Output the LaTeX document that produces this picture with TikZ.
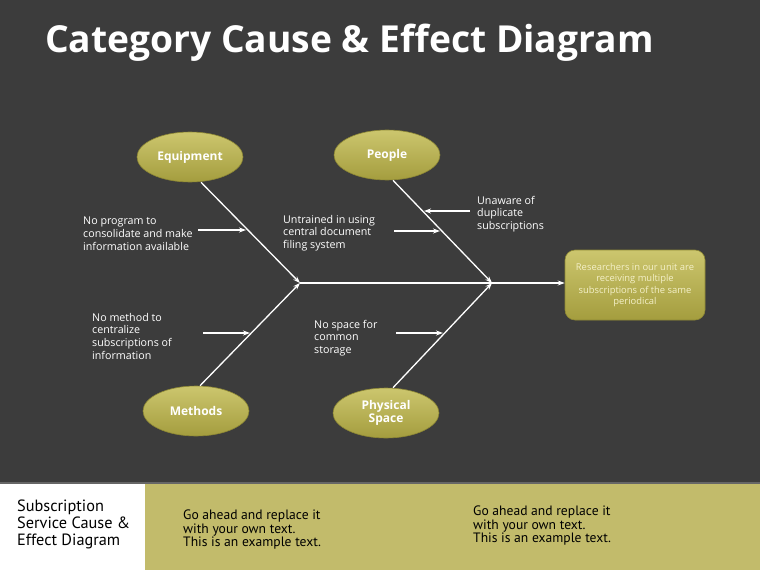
\documentclass[tikz,border=0pt]{standalone}
\usepackage{fontspec}
\setmainfont{Open Sans}
\newfontfamily\bottomfont{PT Sans}
\usetikzlibrary{shapes.geometric,arrows.meta}
\definecolor{bgdark}{HTML}{3C3C3C}
\definecolor{olive}{HTML}{C2BB6B}
\definecolor{olivetop}{HTML}{CCC66E}
\definecolor{olivebot}{HTML}{A49D3E}
\definecolor{oliverim}{HTML}{8E8834}
\definecolor{effecttext}{HTML}{F4F0C8}
\tikzset{
  cat/.style={ellipse, minimum width=106pt, minimum height=50pt, inner sep=0pt,
    top color=olivetop, bottom color=olivebot, draw=oliverim, line width=0.6pt,
    text=white, font=\fontsize{12}{13}\selectfont\bfseries, align=center},
  bone/.style={draw=white, line width=1.3pt, -{Stealth[length=7pt,width=5pt]}},
  sub/.style={draw=white, line width=1.3pt, -{Stealth[length=7pt,width=5pt]}},
  cause/.style={anchor=north west, text=white, align=left, inner sep=0pt,
    font=\fontsize{10.7}{12.6}\selectfont},
  foot/.style={anchor=north west, text=black, align=left, inner sep=0pt,
    font=\bottomfont\fontsize{13.6}{13.4}\selectfont},
}
\begin{document}
\begin{tikzpicture}[x=1pt,y=-1pt]
\useasboundingbox (0,0) rectangle (760,570);
\fill[bgdark] (0,0) rectangle (760,483);
\fill[olive] (145,483) rectangle (760,570);
\fill[white] (0,483) rectangle (145,570);
\fill[black!60] (0,482) rectangle (760,484);

\node[anchor=base west, inner sep=0pt, text=white, font=\fontsize{37.2}{39}\selectfont\bfseries] (title) at (45,52) {Category Cause \& Effect Diagram};

% category ellipses
\node[cat] (equip) at (190,157) {Equipment};
\node[cat] (people) at (387,155) {People};
\node[cat] (methods) at (196,411) {Methods};
\node[cat] (space) at (386,413) {Physical\\Space};

% spine
\coordinate (j1) at (300,283);
\coordinate (j2) at (492,283);
\node[draw=oliverim, line width=0.6pt, rounded corners=10pt, top color=olivetop, bottom color=olivebot,
  minimum width=140pt, minimum height=70pt, text=effecttext, align=center,
  font=\fontsize{9.4}{11.5}\selectfont] (effect) at (635,285)
  {Researchers in our unit are\\receiving multiple\\subscriptions of the same\\periodical};
\draw[bone] (j1) -- (j1 -| effect.west);

% bones
\draw[bone] (equip.south) ++(11,0) coordinate (e0) -- (j1);
\draw[bone] (people.south) ++(6,0) coordinate (p0) -- (j2);
\draw[bone] (methods.north) ++(4,0) coordinate (m0) -- (j1);
\draw[bone] (space.north) ++(7,0) coordinate (s0) -- (j2);

% causes
\node[cause] (c1) at (83,217) {No program to\\consolidate and make\\information available};
\node[cause] (c2) at (283,215) {Untrained in using\\central document\\filing system};
\node[cause] (c3) at (477,196) {Unaware of\\duplicate\\subscriptions};
\node[cause] (c4) at (92,313) {No method to\\centralize\\subscriptions of\\information};
\node[cause] (c5) at (314,320) {No space for\\common\\storage};

\coordinate (a1s) at (198,230); \coordinate (a1e) at (246,230);
\coordinate (a2s) at (394,231); \coordinate (a2e) at (440,231);
\coordinate (a3s) at (470,211); \coordinate (a3e) at (424,211);
\coordinate (a4s) at (203,333); \coordinate (a4e) at (250,333);
\coordinate (a5s) at (396,333); \coordinate (a5e) at (443,333);
\draw[sub] (a1s) -- (a1e);
\draw[sub] (a2s) -- (a2e);
\draw[sub] (a3s) -- (a3e);
\draw[sub] (a4s) -- (a4e);
\draw[sub] (a5s) -- (a5e);

% footer
\node[anchor=north west, inner sep=0pt, text=black, align=left,
  font=\bottomfont\fontsize{16.3}{17}\selectfont] (ft) at (17,500) {Subscription\\Service Cause \&\\Effect Diagram};
\node[foot] (f1) at (183,510) {Go ahead and replace it\\with your own text.\\This is an example text.};
\node[foot] (f2) at (473,506) {Go ahead and replace it\\with your own text.\\This is an example text.};
\end{tikzpicture}
\end{document}
